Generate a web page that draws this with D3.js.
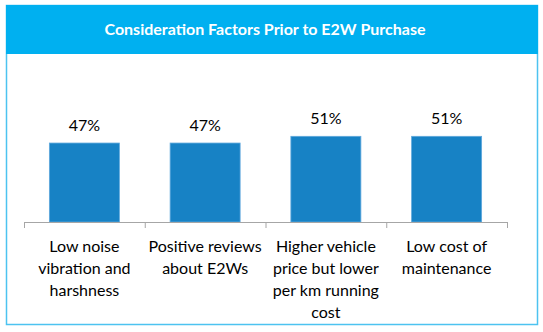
<!DOCTYPE html>
<html>
<head>
<meta charset="utf-8">
<script src="https://cdn.jsdelivr.net/npm/d3@7"></script>
<style>
  body { margin: 0; background: #fff; }
  svg { display: block; font-family: Lato, "Open Sans", sans-serif; }
</style>
</head>
<body>
<svg id="chart" width="543" height="332"></svg>
<script>
// --- data ---
const title = "Consideration Factors Prior to E2W Purchase";
const categories = [
  ["Low noise", "vibration and", "harshness"],
  ["Positive reviews", "about E2Ws"],
  ["Higher vehicle", "price but lower", "per km running", "cost"],
  ["Low cost of", "maintenance"]
];
const values = [0.47, 0.47, 0.51, 0.51];

const svg = d3.select("#chart");

// --- frame + header ---
svg.append("rect")
  .attr("x", 6.5).attr("y", 5.5)
  .attr("width", 531).attr("height", 319)
  .attr("fill", "#fff")
  .attr("stroke", "#4dc3f0")
  .attr("stroke-width", 1.5);

svg.append("rect")
  .attr("x", 6).attr("y", 5)
  .attr("width", 532).attr("height", 49)
  .attr("fill", "#00b0f0");

svg.append("text")
  .attr("x", 265).attr("y", 35)
  .attr("text-anchor", "middle")
  .style("font-size", "16px")
  .style("font-weight", "bold")
  .style("fill", "#fff")
  .text(title);

// --- scales ---
const idx = categories.map((d, i) => i);
const x = d3.scaleBand()
  .domain(idx)
  .range([24, 507])
  .paddingInner(0)
  .paddingOuter(0);

const y = d3.scaleLinear()
  .domain([0, 1])
  .range([222, 54]);

const barW = 70;

// --- bars ---
svg.selectAll("rect.bar")
  .data(values)
  .enter().append("rect")
    .attr("class", "bar")
    .attr("x", (d, i) => x(i) + x.bandwidth() / 2 - barW / 2)
    .attr("y", d => y(d))
    .attr("width", barW)
    .attr("height", d => y(0) - y(d))
    .attr("fill", "#1782c5")
    .attr("stroke", "#5fa8dc")
    .attr("stroke-width", 0.8);

// --- value labels ---
svg.selectAll("text.value")
  .data(values)
  .enter().append("text")
    .attr("class", "value")
    .attr("x", (d, i) => x(i) + x.bandwidth() / 2)
    .attr("y", d => y(d) - 12)
    .attr("text-anchor", "middle")
    .style("font-size", "16px")
    .style("fill", "#000")
    .text(d => Math.round(d * 100) + "%");

// --- x axis ---
const axis = svg.append("g");
axis.append("line")
  .attr("x1", 24).attr("x2", 507)
  .attr("y1", 222.5).attr("y2", 222.5)
  .attr("stroke", "#a6a6a6");
axis.selectAll("line.tick")
  .data(idx.concat([categories.length]))
  .enter().append("line")
    .attr("class", "tick")
    .attr("x1", i => (i < categories.length ? x(i) : x.range()[1]) + 0.5)
    .attr("x2", i => (i < categories.length ? x(i) : x.range()[1]) + 0.5)
    .attr("y1", 222).attr("y2", 228)
    .attr("stroke", "#a6a6a6");

// --- category labels ---
const catLabels = svg.selectAll("text.cat")
  .data(categories)
  .enter().append("text")
    .attr("class", "cat")
    .attr("text-anchor", "middle")
    .style("font-size", "16px")
    .style("fill", "#000");

catLabels.selectAll("tspan")
  .data((d, i) => d.map(line => ({ line, i })))
  .enter().append("tspan")
    .attr("x", d => x(d.i) + x.bandwidth() / 2)
    .attr("y", (d, j) => 252 + j * 22)
    .text(d => d.line);
</script>
</body>
</html>
